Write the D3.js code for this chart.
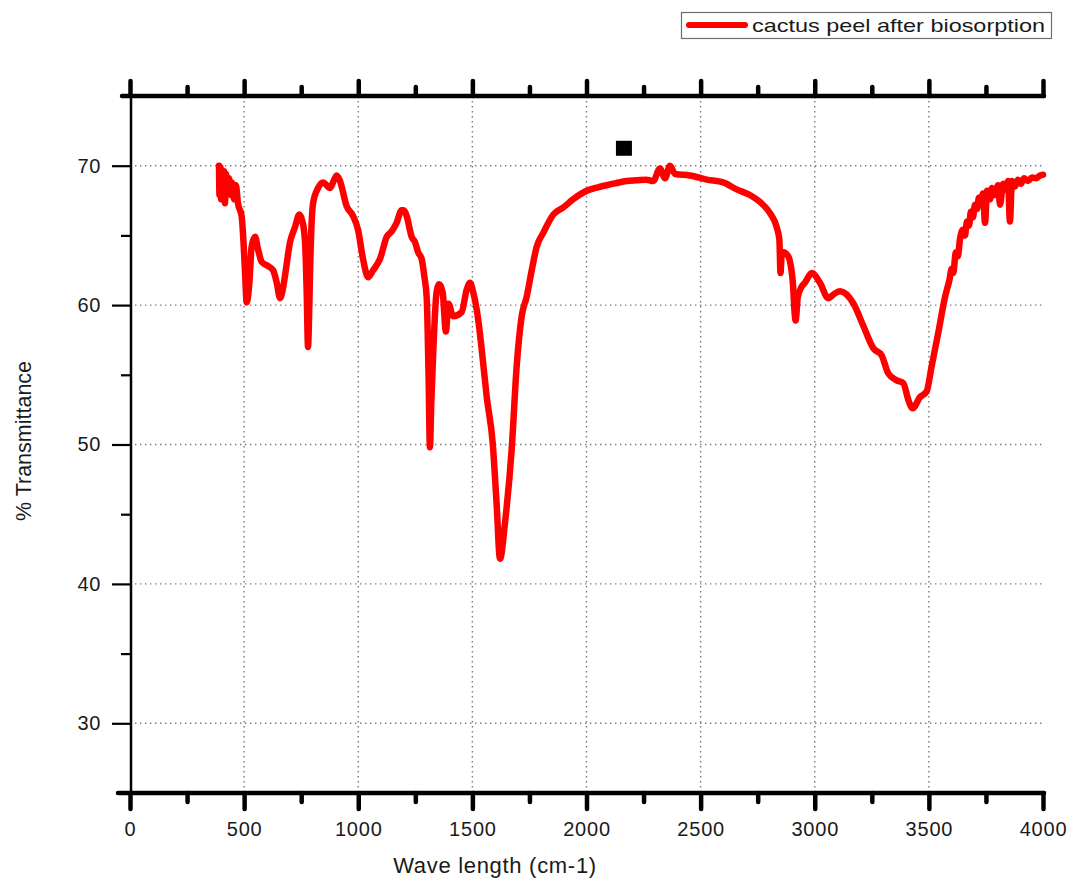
<!DOCTYPE html>
<html>
<head>
<meta charset="utf-8">
<script src="https://cdn.jsdelivr.net/npm/d3@7"></script>
<style>
  html, body { margin: 0; padding: 0; background: #fff; }
  svg { display: block; }
  text { font-family: "Liberation Sans", Arial, sans-serif; fill: #1a1a1a; }
</style>
</head>
<body>
<svg id="chart" width="1073" height="882"></svg>
<script>
// FTIR spectrum: wavenumber (cm-1) and % transmittance
const wavenumber = [
  390, 392, 396, 399, 403, 407, 412, 416, 421, 427, 434, 442, 447, 456, 464, 473,
  489, 499, 505, 511, 517, 523, 533, 548, 561, 577, 605, 627, 643, 657, 668, 679,
  701, 723, 742, 757, 767, 774, 780, 785, 789, 802, 824, 846, 876, 892, 906, 920,
  949, 977, 999, 1021, 1043, 1065, 1095, 1125, 1147, 1168, 1190, 1200, 1212, 1234,
  1249, 1262, 1278, 1290, 1300, 1308, 1314, 1320, 1329, 1343, 1355, 1370, 1384, 1395,
  1416, 1453, 1475, 1490, 1504, 1526, 1541, 1563, 1589, 1606, 1621, 1643, 1672, 1694,
  1716, 1738, 1760, 1782, 1811, 1855, 1898, 1942, 2001, 2050, 2088, 2130, 2176, 2220,
  2263, 2292, 2322, 2344, 2366, 2388, 2453, 2527, 2599, 2658, 2716, 2760, 2804, 2833,
  2845, 2850, 2855, 2862, 2884, 2903, 2916, 2926, 2942, 2957, 2987, 3023, 3059, 3085,
  3111, 3170, 3213, 3257, 3293, 3322, 3359, 3388, 3410, 3429, 3461, 3490, 3512, 3541,
  3571, 3590, 3600, 3607, 3618, 3627, 3636, 3649, 3658, 3667, 3676, 3684, 3693, 3702,
  3711, 3719, 3728, 3737, 3746, 3755, 3768, 3776, 3790, 3803, 3812, 3825, 3838, 3847,
  3855, 3864, 3877, 3890, 3903, 3917, 3934, 3952, 3969, 3987, 4000
];
const transmittance = [
  70.0, 67.9, 69.9, 67.6, 69.7, 68.1, 69.6, 67.3, 69.4, 68.3, 69.1, 67.9, 68.8, 67.6, 68.6, 67.3,
  66.4, 64.0, 62.0, 60.2, 60.6, 61.6, 64.2, 64.9, 64.0, 63.1, 62.8, 62.5, 61.6, 60.5, 61.0, 62.1,
  64.5, 65.6, 66.5, 65.9, 64.5, 61.0, 57.0, 59.5, 62.5, 67.3, 68.4, 68.8, 68.4, 68.9, 69.3, 68.9,
  67.1, 66.4, 65.4, 63.3, 62.0, 62.5, 63.3, 64.9, 65.3, 65.9, 66.8, 66.8, 66.4, 64.9,
  64.5, 63.8, 63.3, 62.0, 60.5, 55.0, 49.8, 53.0, 56.8, 60.9, 61.5, 60.9, 58.1, 60.1,
  59.2, 59.5, 61.1, 61.6, 60.9, 58.9, 56.8, 53.4, 50.1, 45.8, 41.8, 44.4, 49.6, 55.6,
  59.2, 60.6, 62.5, 64.2, 65.2, 66.5, 67.0, 67.6, 68.2, 68.45, 68.6, 68.75, 68.9, 68.95,
  69.0, 68.9, 69.8, 69.1, 70.0, 69.4, 69.3, 69.0, 68.8, 68.3, 67.9, 67.4, 66.6, 65.6,
  64.7, 62.3, 63.6, 63.8, 63.5, 61.8, 58.9, 60.6, 61.3, 61.6, 62.3, 61.6, 60.5, 60.8,
  61.0, 60.1, 58.5, 56.9, 56.4, 55.1, 54.6, 54.4, 53.2, 52.6, 53.4, 53.8, 55.6, 58.0,
  60.6, 61.8, 62.6, 62.3, 63.8, 63.5, 64.7, 65.4, 65.0, 66.0, 65.7, 66.7, 66.3, 67.2,
  66.9, 67.7, 67.2, 68.0, 65.9, 68.2, 67.6, 68.4, 67.9, 68.6, 67.2, 68.7, 68.3, 68.9,
  66.0, 68.9, 68.5, 69.0, 68.7, 69.1, 68.9, 69.15, 69.1, 69.3, 69.35
];

const xMajorTicks = [0, 500, 1000, 1500, 2000, 2500, 3000, 3500, 4000];
const xMinorTicks = [250, 750, 1250, 1750, 2250, 2750, 3250, 3750];
const yMajorTicks = [30, 40, 50, 60, 70];
const yMinorTicks = [25, 35, 45, 55, 65, 75];
const xGridValues = [500, 1000, 1500, 2000, 2500, 3000, 3500];
const yGridValues = [30, 40, 50, 60, 70];

const seriesName = "cactus peel after biosorption";
const xTitle = "Wave length (cm-1)";
const yTitle = "% Transmittance";
const markerPoint = [2164, 71.25];

const svg = d3.select("#chart");

const x = d3.scaleLinear().domain([0, 4000]).range([130, 1043]);
const y = d3.scaleLinear().domain([25, 75]).range([793, 96]);

const [x0, x1] = x.range();
const [yBot, yTop] = y.range();

// dotted grid
const grid = svg.append("g").attr("stroke", "#7a7a7a").attr("stroke-width", 1.4)
  .attr("stroke-dasharray", "1.4,3.6");
grid.selectAll("line.v").data(xGridValues).join("line")
  .attr("class", "v")
  .attr("x1", d => x(d)).attr("x2", d => x(d))
  .attr("y1", yTop).attr("y2", yBot);
grid.selectAll("line.h").data(yGridValues).join("line")
  .attr("class", "h")
  .attr("x1", x0).attr("x2", x1)
  .attr("y1", d => y(d)).attr("y2", d => y(d));

// axes
function styleAxis(g, width) {
  g.select(".domain").remove();
  g.selectAll(".tick line").attr("stroke", "#000").attr("stroke-width", width)
    .attr("stroke-linecap", "round");
}

// bottom: major ticks with labels, minor ticks
const bottomMajor = svg.append("g").attr("transform", `translate(0,${yBot})`)
  .call(d3.axisBottom(x).tickValues(xMajorTicks).tickSize(16).tickSizeOuter(0).tickPadding(13).tickFormat(d3.format("d")));
styleAxis(bottomMajor, 4.5);
bottomMajor.selectAll(".tick text").attr("font-size", 20).attr("letter-spacing", "0.8px").attr("fill", "#1a1a1a");

const bottomMinor = svg.append("g").attr("transform", `translate(0,${yBot})`)
  .call(d3.axisBottom(x).tickValues(xMinorTicks).tickSize(9).tickSizeOuter(0).tickFormat(""));
styleAxis(bottomMinor, 4.5);

// top: ticks only
const topMajor = svg.append("g").attr("transform", `translate(0,${yTop})`)
  .call(d3.axisTop(x).tickValues(xMajorTicks).tickSize(15).tickSizeOuter(0).tickFormat(""));
styleAxis(topMajor, 4.5);
const topMinor = svg.append("g").attr("transform", `translate(0,${yTop})`)
  .call(d3.axisTop(x).tickValues(xMinorTicks).tickSize(9).tickSizeOuter(0).tickFormat(""));
styleAxis(topMinor, 4.5);

// left: thin line with outward ticks
const leftMajor = svg.append("g").attr("transform", `translate(${x0},0)`)
  .call(d3.axisLeft(y).tickValues(yMajorTicks).tickSize(18).tickSizeOuter(0).tickPadding(11).tickFormat(d3.format("d")));
leftMajor.select(".domain").remove();
leftMajor.selectAll(".tick line").attr("stroke", "#000").attr("stroke-width", 2.2);
leftMajor.selectAll(".tick text").attr("font-size", 20).attr("letter-spacing", "0.6px").attr("fill", "#1a1a1a");

const leftMinor = svg.append("g").attr("transform", `translate(${x0},0)`)
  .call(d3.axisLeft(y).tickValues(yMinorTicks).tickSize(9).tickSizeOuter(0).tickFormat(""));
leftMinor.select(".domain").remove();
leftMinor.selectAll(".tick line").attr("stroke", "#000").attr("stroke-width", 2.2);

// axis lines
svg.append("line").attr("x1", x0 + 1).attr("x2", x0 + 1).attr("y1", yTop).attr("y2", yBot)
  .attr("stroke", "#000").attr("stroke-width", 2.5);
svg.append("line").attr("x1", x0 - 8).attr("x2", x1 + 1).attr("y1", yTop).attr("y2", yTop)
  .attr("stroke", "#000").attr("stroke-width", 4.5).attr("stroke-linecap", "round");
svg.append("line").attr("x1", x0 - 12).attr("x2", x1 + 1).attr("y1", yBot).attr("y2", yBot)
  .attr("stroke", "#000").attr("stroke-width", 4.5).attr("stroke-linecap", "round");

// spectrum
const points = wavenumber.map((w, i) => [w, transmittance[i]]);
const line = d3.line().x(d => x(d[0])).y(d => y(d[1])).curve(d3.curveMonotoneX);
svg.append("path").datum(points)
  .attr("d", line)
  .attr("fill", "none")
  .attr("stroke", "#ff0000")
  .attr("stroke-width", 6.5)
  .attr("stroke-linejoin", "round")
  .attr("stroke-linecap", "round");

// square marker
svg.append("rect")
  .attr("x", x(markerPoint[0]) - 8).attr("y", y(markerPoint[1]) - 7.5)
  .attr("width", 16).attr("height", 15).attr("fill", "#000");

// axis titles
svg.append("text").attr("x", 495).attr("y", 873).attr("text-anchor", "middle")
  .attr("font-size", 22).attr("letter-spacing", "0.7px").text(xTitle);
svg.append("text").attr("transform", "translate(31,441) rotate(-90)").attr("text-anchor", "middle")
  .attr("font-size", 21.5).text(yTitle);

// legend
const legend = svg.append("g");
legend.append("rect").attr("x", 681.5).attr("y", 12.5).attr("width", 370).attr("height", 26)
  .attr("fill", "#fff").attr("stroke", "#6e6e6e").attr("stroke-width", 1.2);
legend.append("line").attr("x1", 689).attr("x2", 745).attr("y1", 25).attr("y2", 25)
  .attr("stroke", "#ff0000").attr("stroke-width", 6).attr("stroke-linecap", "round");
legend.append("text").attr("x", 752).attr("y", 32).attr("font-size", 19)
  .attr("textLength", 293).attr("lengthAdjust", "spacingAndGlyphs").text(seriesName);
</script>
</body>
</html>
